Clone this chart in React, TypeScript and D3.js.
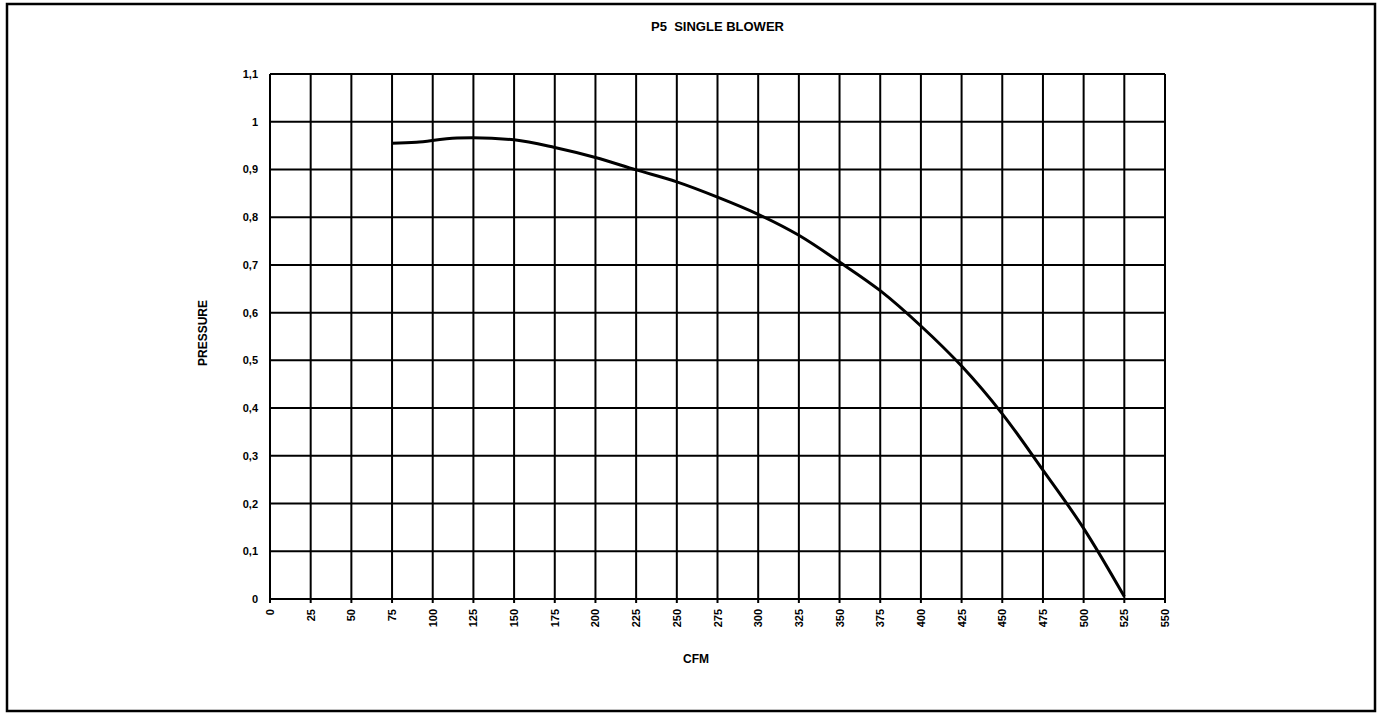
import React from 'react';
import * as d3 from 'd3';

const cfm = [75, 90, 115, 150, 175, 200, 225, 250, 275, 300, 325, 350, 375, 400, 425, 450, 475, 500, 525];
const pressure = [0.955, 0.957, 0.966, 0.962, 0.946, 0.925, 0.899, 0.874, 0.842, 0.806, 0.762, 0.706, 0.646, 0.572, 0.488, 0.388, 0.27, 0.148, 0.005];

const xTicks = d3.range(0, 551, 25);
const yTicks = d3.range(0, 11.5, 1).map((d) => d / 10);

const W = 1382;
const H = 718;
const margin = { top: 74, right: 217, bottom: 119, left: 270 };
const FONT = '"Liberation Sans", Arial, sans-serif';

const fmt = (v: number) => String(Math.round(v * 10) / 10).replace('.', ',');

const App: React.FC = () => {
  const x = d3.scaleLinear().domain([0, 550]).range([margin.left, W - margin.right]);
  const y = d3.scaleLinear().domain([0, 1.1]).range([H - margin.bottom, margin.top]);

  const points = cfm.map((c, i) => [c, pressure[i]] as [number, number]);
  const line = d3.line<[number, number]>()
    .x((d) => x(d[0]))
    .y((d) => y(d[1]))
    .curve(d3.curveCatmullRom.alpha(0.5));

  const [x0, x1] = x.range();
  const [y0, y1] = y.range();

  return (
    <svg width={W} height={H} style={{ position: 'absolute', left: 0, top: 0, background: '#fff' }} fontFamily={FONT}>
      {/* outer frame */}
      <rect x={7} y={4} width={1368} height={707} fill="none" stroke="#000" strokeWidth={2.5} />

      <text x={(x0 + x1) / 2} y={31} textAnchor="middle" fontSize={13} fontWeight="bold" fill="#000" style={{ whiteSpace: 'pre' }}>
        {'P5  SINGLE BLOWER'}
      </text>

      {/* grid */}
      {yTicks.map((t) => (
        <line key={'h' + t} x1={x0} x2={x1} y1={y(t)} y2={y(t)} stroke="#000" strokeWidth={2} />
      ))}
      {xTicks.map((t) => (
        <line key={'v' + t} x1={x(t)} x2={x(t)} y1={y1} y2={y0 + 4} stroke="#000" strokeWidth={2} />
      ))}

      {/* y labels */}
      {yTicks.map((t) => (
        <text key={'yl' + t} x={x0 - 12} y={y(t) + 4} textAnchor="end" fontSize={11} fontWeight="bold" fill="#000">
          {fmt(t)}
        </text>
      ))}

      {/* x labels, rotated */}
      {xTicks.map((t) => (
        <text
          key={'xl' + t}
          transform={`translate(${x(t) + 4},${y0 + 10}) rotate(-90)`}
          textAnchor="end"
          fontSize={11}
          fontWeight="bold"
          fill="#000"
        >
          {t}
        </text>
      ))}

      <text transform={`translate(207,333) rotate(-90)`} textAnchor="middle" fontSize={12} fontWeight="bold" fill="#000">
        PRESSURE
      </text>
      <text x={696} y={663} textAnchor="middle" fontSize={12} fontWeight="bold" fill="#000">
        CFM
      </text>

      <path d={line(points) || ''} fill="none" stroke="#000" strokeWidth={3} strokeLinejoin="round" />
    </svg>
  );
};

export default App;
